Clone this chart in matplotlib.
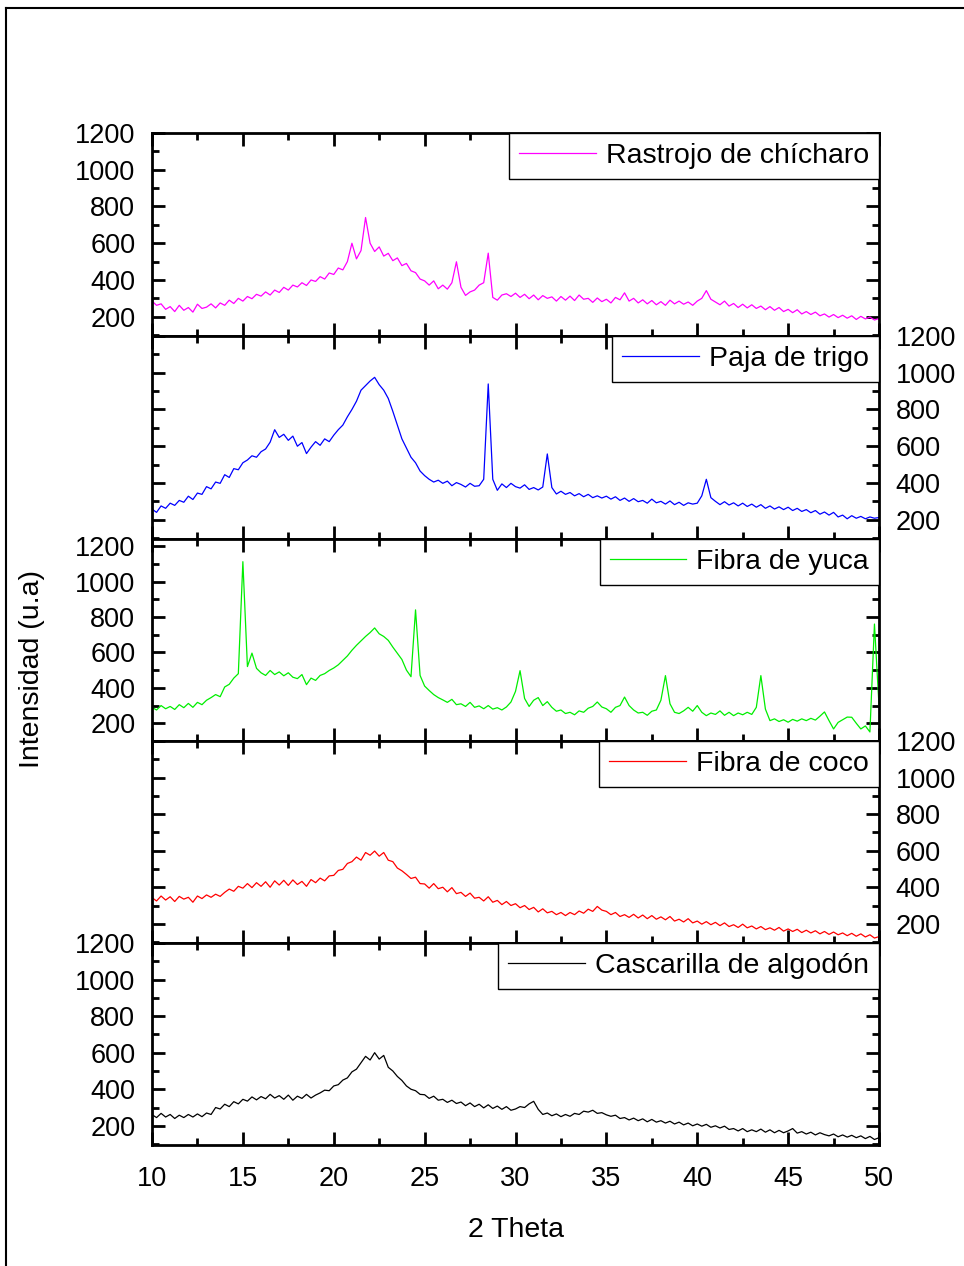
import numpy as np
import matplotlib
matplotlib.use("Agg")
import matplotlib.pyplot as plt
from matplotlib.lines import Line2D
from matplotlib.ticker import MultipleLocator

plt.rcParams['font.family'] = ['Liberation Sans', 'DejaVu Sans']

# 2 theta grid, 0.25 deg steps
two_theta = np.arange(10, 50.001, 0.25)

rastrojo = [
    285, 262, 270, 240, 255, 228, 262, 235, 250, 225, 268, 245, 252, 270, 248, 275,
    262, 290, 272, 300, 285, 310, 298, 322, 312, 335, 318, 345, 332, 360, 345, 372,
    362, 385, 370, 400, 392, 418, 405, 438, 430, 465, 455, 500, 600, 515, 560, 740,
    600, 555, 580, 530, 545, 505, 520, 478, 490, 450, 440, 405, 395, 372, 395, 352,
    372, 350, 385, 499, 360, 316, 335, 345, 372, 385, 546, 305, 290, 318, 325, 310,
    328, 305, 322, 298, 318, 292, 315, 300, 308, 285, 310, 290, 312, 288, 318, 295,
    300, 278, 302, 282, 295, 275, 305, 292, 330, 285, 300, 275, 292, 270, 288, 265,
    282, 262, 290, 270, 285, 268, 280, 262, 285, 300, 342, 295, 280, 265, 285, 258,
    272, 250, 268, 248, 265, 245, 258, 238, 255, 235, 250, 228, 240, 222, 238, 215,
    228, 212, 225, 205, 215, 198, 212, 195, 208, 192, 205, 185, 202, 188, 198, 182,
    190]

paja = [
    258, 240, 275, 262, 290, 278, 305, 295, 328, 310, 345, 338, 380, 368, 405, 398,
    445, 430, 478, 472, 510, 525, 548, 540, 570, 585, 622, 690, 648, 665, 632, 655,
    600, 620, 560, 595, 625, 605, 640, 625, 660, 690, 715, 760, 800, 845, 905, 930,
    955, 975, 935, 905, 860, 790, 715, 640, 590, 540, 510, 465, 440, 420, 405, 415,
    398, 410, 385, 402, 392, 378, 398, 382, 385, 420, 939, 420, 360, 395, 375, 398,
    380, 372, 390, 365, 375, 362, 378, 558, 375, 340, 355, 338, 348, 330, 342, 325,
    338, 320, 330, 318, 328, 312, 325, 305, 318, 300, 315, 298, 305, 290, 312, 292,
    300, 285, 302, 282, 295, 278, 292, 285, 290, 330, 420, 320, 300, 282, 298, 280,
    292, 275, 290, 272, 285, 268, 282, 262, 275, 258, 270, 255, 268, 250, 262, 245,
    255, 238, 250, 230, 242, 225, 240, 215, 225, 205, 222, 208, 218, 205, 215, 208,
    212]

yuca = [
    290, 275, 300, 282, 295, 278, 305, 288, 312, 290, 318, 305, 330, 345, 362, 350,
    405, 420, 455, 480, 1112, 520, 596, 510, 485, 470, 498, 475, 490, 468, 485, 460,
    452, 475, 418, 455, 442, 470, 480, 498, 512, 530, 555, 580, 612, 640, 665, 690,
    712, 738, 705, 690, 668, 630, 595, 560, 500, 463, 840, 470, 410, 385, 362, 345,
    332, 318, 335, 305, 310, 295, 318, 290, 298, 282, 300, 280, 288, 275, 292, 320,
    380, 497, 340, 295, 330, 345, 300, 322, 290, 268, 275, 255, 262, 248, 270, 262,
    285, 295, 320, 292, 282, 262, 290, 300, 348, 300, 275, 258, 262, 245, 268, 275,
    330, 469, 310, 262, 255, 270, 290, 268, 300, 262, 243, 258, 250, 270, 245, 262,
    243, 258, 248, 262, 250, 290, 469, 280, 215, 225, 210, 220, 206, 222, 212, 225,
    215, 228, 218, 240, 264, 215, 168, 205, 220, 235, 234, 200, 168, 185, 151, 760,
    299]

coco = [
    343, 325, 352, 330, 348, 322, 350, 335, 345, 318, 352, 338, 358, 345, 362, 350,
    372, 390, 378, 405, 395, 420, 398, 425, 405, 430, 400, 435, 412, 438, 410, 440,
    415, 432, 405, 442, 425, 450, 435, 462, 465, 492, 498, 530, 540, 565, 548, 590,
    575, 598, 570, 590, 548, 540, 505, 490, 470, 448, 455, 420, 418, 395, 420, 392,
    400, 375, 398, 365, 372, 350, 368, 340, 345, 325, 348, 318, 328, 305, 322, 300,
    310, 288, 300, 278, 290, 265, 282, 260, 268, 250, 262, 245, 262, 250, 270, 258,
    280, 268, 295, 275, 268, 250, 262, 240, 250, 235, 252, 232, 248, 228, 245, 225,
    238, 222, 240, 215, 225, 210, 228, 205, 215, 198, 212, 195, 208, 190, 205, 185,
    195, 180, 198, 178, 188, 172, 185, 168, 178, 165, 180, 160, 172, 158, 170, 152,
    165, 150, 162, 145, 158, 142, 155, 140, 150, 135, 148, 132, 145, 128, 140, 122,
    130]

algodon = [
    261, 245, 268, 248, 262, 240, 258, 245, 262, 248, 265, 250, 270, 262, 300, 292,
    318, 305, 332, 320, 345, 335, 358, 342, 360, 348, 372, 352, 365, 345, 368, 340,
    362, 350, 372, 352, 368, 380, 395, 392, 418, 425, 450, 462, 495, 510, 545, 580,
    560, 600, 565, 585, 520, 500, 470, 448, 418, 400, 392, 372, 370, 350, 362, 340,
    345, 328, 340, 322, 330, 310, 325, 305, 318, 298, 315, 295, 308, 290, 305, 285,
    292, 305, 300, 320, 334, 290, 262, 270, 255, 265, 250, 262, 252, 268, 262, 280,
    275, 285, 268, 272, 260, 252, 258, 240, 245, 232, 242, 228, 238, 222, 235, 220,
    228, 215, 225, 210, 220, 205, 215, 200, 210, 198, 208, 192, 200, 188, 198, 180,
    185, 172, 185, 168, 178, 168, 182, 165, 178, 162, 175, 162, 172, 185, 160, 168,
    155, 165, 150, 162, 152, 145, 155, 140, 150, 138, 148, 135, 145, 130, 142, 125,
    135]

names = ["Rastrojo de chícharo", "Paja de trigo", "Fibra de yuca",
         "Fibra de coco", "Cascarilla de algodón"]
series = [rastrojo, paja, yuca, coco, algodon]
colors = ["#FF00FF", "#0000FF", "#00EE00", "#FF0000", "#000000"]
ylims = [(95, 1200), (95, 1200), (100, 1240), (95, 1200), (95, 1200)]
label_right = [False, True, False, True, False]

W, H = 964, 1266
fig = plt.figure(figsize=(W / 100, H / 100), dpi=100)

left, right = 152 / W, 879 / W
tops = [133, 336, 539, 741, 943]
bottoms = [336, 539, 741, 943, 1145]

for i in range(5):
    ax = fig.add_axes([left, 1 - bottoms[i] / H, right - left, (bottoms[i] - tops[i]) / H])
    ax.plot(two_theta, series[i], color=colors[i], lw=0.9, label=names[i])
    ax.set_xlim(10, 50)
    ax.set_ylim(*ylims[i])
    ax.xaxis.set_major_locator(MultipleLocator(5))
    ax.xaxis.set_minor_locator(MultipleLocator(2.5))
    ax.yaxis.set_major_locator(MultipleLocator(200))
    ax.yaxis.set_minor_locator(MultipleLocator(100))
    ax.set_yticks([200, 400, 600, 800, 1000, 1200])
    for s in ax.spines.values():
        s.set_linewidth(2)
    ax.tick_params(which='both', direction='in', top=True, bottom=True,
                   left=True, right=True, width=2, labelsize=19.5)
    ax.tick_params(which='major', length=9.5)
    ax.tick_params(which='minor', length=5)
    ax.tick_params(axis='y', pad=12, labelleft=not label_right[i],
                   labelright=label_right[i])
    ax.tick_params(axis='x', pad=15, labelbottom=(i == 4))
    leg = ax.legend(loc='upper right', fontsize=20.5, frameon=True, fancybox=False,
                    borderaxespad=0, borderpad=0.35, handlelength=2.7,
                    handletextpad=0.35, framealpha=1)
    leg.get_frame().set_edgecolor('black')
    leg.get_frame().set_linewidth(1)
    if i == 4:
        ax.set_xlabel("2 Theta", fontsize=20.5, labelpad=18)

fig.text(32 / W, 1 - 669 / H, "Intensidad (u.a)", rotation=90,
         ha='center', va='center', fontsize=20.5)

# outer frame (only top and left edges fall inside the image)
fig.add_artist(Line2D([6 / W, 6 / W], [0, 1 - 8 / H], color='black', lw=1.5))
fig.add_artist(Line2D([6 / W, 1], [1 - 8 / H, 1 - 8 / H], color='black', lw=1.5))

fig.savefig("out.png", dpi=100)
